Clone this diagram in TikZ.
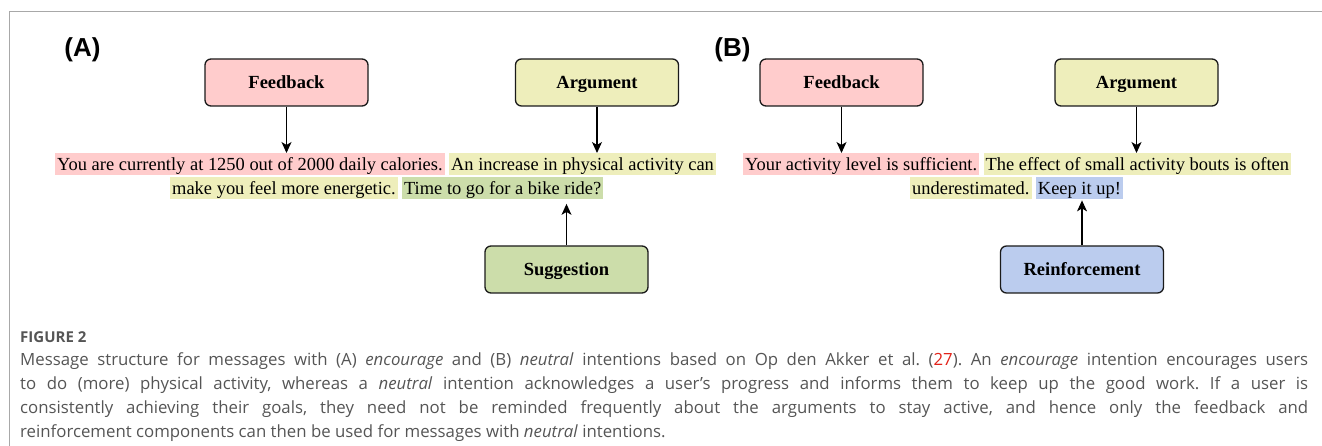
\documentclass[tikz,border=0pt]{standalone}
\usepackage{fontspec}
\setmainfont{Liberation Serif}
\newfontfamily\capfont{Open Sans}
\newfontfamily\labfont{Liberation Sans}
\usetikzlibrary{arrows.meta}
\definecolor{pinkc}{HTML}{FFCCCC}
\definecolor{yelc}{HTML}{EEEEBB}
\definecolor{grnc}{HTML}{CCDDAA}
\definecolor{bluc}{HTML}{BBCCEE}
\definecolor{capgray}{HTML}{555555}
\definecolor{refred}{HTML}{E2231A}
\definecolor{framegray}{HTML}{A8A8A8}
\definecolor{boxline}{HTML}{1A1A1A}
\frenchspacing
\begin{document}
\begin{tikzpicture}[x=1pt,y=-1pt,
  comp/.style={draw=boxline, line width=1.3pt, rounded corners=6pt, minimum width=163pt, minimum height=47pt, inner sep=0pt, text height=13.6pt, text depth=2pt, font=\fontsize{18.5}{20}\selectfont\bfseries},
  hl/.style={inner xsep=2pt, inner ysep=0pt, text height=17.5pt, text depth=4.5pt, anchor=base west, font=\fontsize{18.45}{20}\selectfont},
  panel/.style={font=\labfont\fontsize{26}{28}\selectfont\bfseries, anchor=base, inner sep=0pt},
  arr/.style={line width=1.1pt, -{Stealth[length=11pt,width=10pt,inset=3pt]}},
  capline/.style={anchor=base west, inner sep=0pt, text=capgray, font=\capfont\fontsize{16.8}{19}\selectfont}
]
\useasboundingbox (0,0) rectangle (1322,446);
% frame
\draw[framegray, line width=1.2pt] (1322,11.5) -- (9.5,11.5) -- (9.5,446);

% panel labels
\node[panel] (labA) at (82.5,57) {(A)};
\node[panel] (labB) at (732.5,57) {(B)};

% boxes
\node[comp, fill=pinkc] (fbA) at (286.5,82.5) {Feedback};
\node[comp, fill=yelc] (argA) at (597,82.5) {Argument};
\node[comp, fill=grnc] (sugA) at (566.5,269.5) {Suggestion};
\node[comp, fill=pinkc] (fbB) at (841.5,82.5) {Feedback};
\node[comp, fill=yelc] (argB) at (1136.5,82.5) {Argument};
\node[comp, fill=bluc] (reB) at (1082,269.5) {Reinforcement};

% message A
\node[hl, fill=pinkc] (tA1) at (55,170.7) {You are currently at 1250 out of 2000 daily calories.};
\node[hl, fill=yelc] (tA2) at ([xshift=4pt]tA1.base east) {An increase in physical activity can};
\node[hl, fill=yelc] (tA3) at (170,194.2) {make you feel more energetic.};
\node[hl, fill=grnc] (tA4) at ([xshift=4pt]tA3.base east) {Time to go for a bike ride?};

% message B
\node[hl, fill=pinkc] (tB1) at (743,170.7) {Your activity level is sufficient.};
\node[hl, fill=yelc] (tB2) at ([xshift=4pt]tB1.base east) {The effect of small activity bouts is often};
\node[hl, fill=yelc] (tB3) at (910,194.2) {underestimated.};
\node[hl, fill=bluc] (tB4) at ([xshift=4pt]tB3.base east) {Keep it up!};

% arrows
\draw[arr] (fbA.south) -- (fbA.south |- tA1.north);
\draw[arr] (argA.south) -- (argA.south |- tA2.north);
\draw[arr, shorten >=5pt] (sugA.north) -- (sugA.north |- tA4.south);
\draw[arr] (fbB.south) -- (fbB.south |- tB1.north);
\draw[arr] (argB.south) -- (argB.south |- tB2.north);
\draw[arr, shorten >=1.5pt] (reB.north) -- (reB.north |- tB4.south);

% caption
\node[anchor=base west, inner sep=0pt, text=capgray, font=\capfont\bfseries\fontsize{15}{16}\selectfont] (fig) at (20,342) {FIGURE 2};
\node[capline] (c1) at (20,365) {\makebox[1288pt][s]{Message structure for messages with (A) \textit{encourage} and (B) \textit{neutral} intentions based on Op den Akker et al. (\textcolor{refred}{27}). An \textit{encourage} intention encourages users}};
\node[capline] (c2) at (20,389) {\makebox[1288pt][s]{to do (more) physical activity, whereas a \textit{neutral} intention acknowledges a user’s progress and informs them to keep up the good work. If a user is}};
\node[capline] (c3) at (20,413) {\makebox[1288pt][s]{consistently achieving their goals, they need not be reminded frequently about the arguments to stay active, and hence only the feedback and}};
\node[capline] (c4) at (20,437) {reinforcement components can then be used for messages with \textit{neutral} intentions.};
\end{tikzpicture}
\end{document}
